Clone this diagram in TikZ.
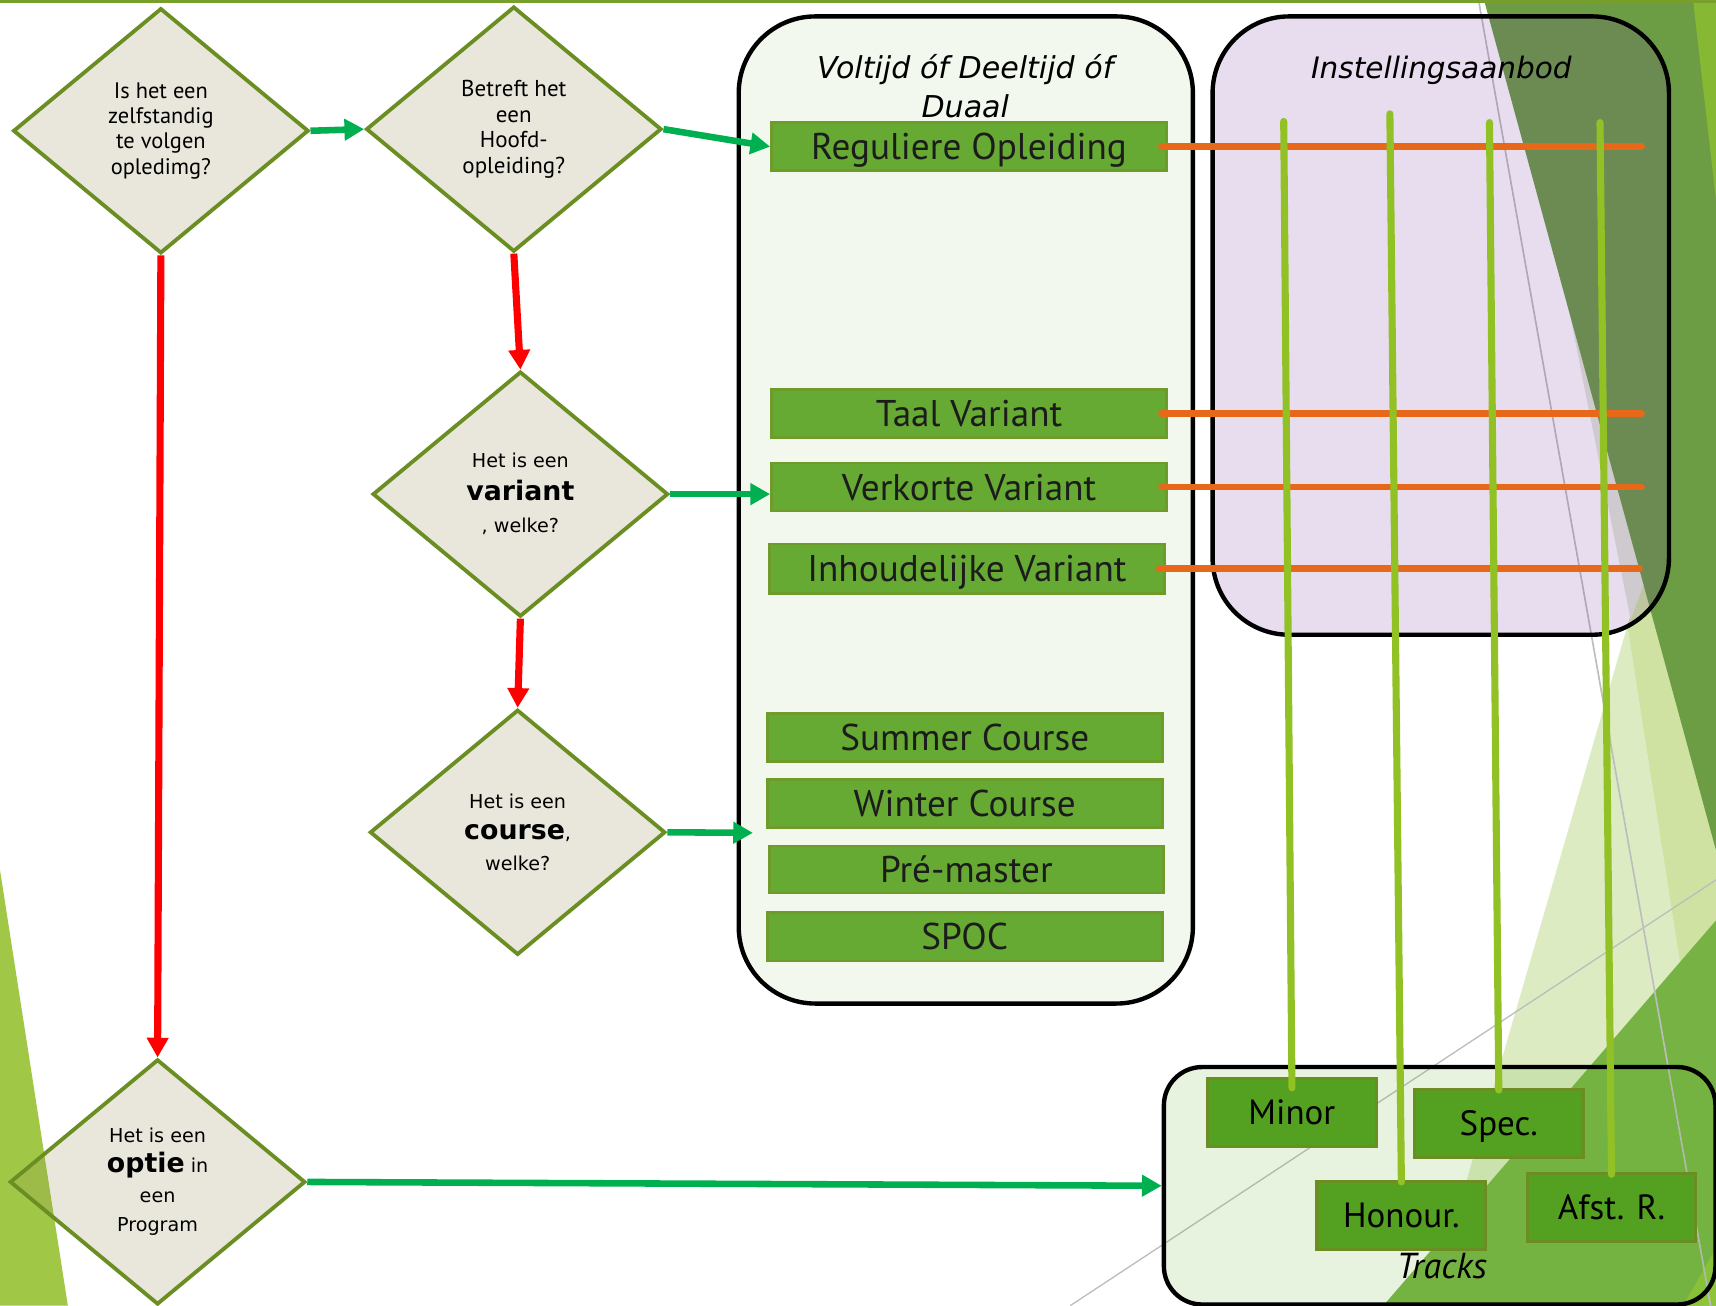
\documentclass[tikz,border=0pt]{standalone}
\usepackage{fontspec}
\setmainfont{PT Sans}
\newfontfamily\dvs{DejaVu Sans}
\usetikzlibrary{shapes.geometric,arrows.meta}
\definecolor{tanfill}{HTML}{948A54}
\definecolor{olivebd}{HTML}{6B8E23}
\definecolor{gfill}{HTML}{66AA33}
\definecolor{gbd}{HTML}{6E9B2A}
\definecolor{tfill}{HTML}{54A021}
\definecolor{tbd}{HTML}{6B8E23}
\definecolor{orangeln}{HTML}{E8681A}
\definecolor{limeln}{HTML}{92C125}
\definecolor{garrowc}{HTML}{00B050}
\definecolor{purplef}{HTML}{7030A0}
\definecolor{greenf}{HTML}{6CB43C}
\definecolor{voltf}{HTML}{F2F8ED}
\definecolor{bgdark}{HTML}{6C9D45}
\definecolor{bglimetop}{HTML}{86B833}
\definecolor{bglight}{HTML}{DDEBC3}
\definecolor{bglight2}{HTML}{CFE2A2}
\definecolor{bgwedge}{HTML}{E2E8D6}
\definecolor{bgmid}{HTML}{76B344}
\definecolor{bgleft}{HTML}{A0C846}
\definecolor{bgcorner}{HTML}{8DC43A}
\definecolor{topline}{HTML}{76A02B}
\definecolor{thinline}{HTML}{BDBDBD}
\definecolor{txtdark}{HTML}{1C1C1C}
\begin{document}
\begin{tikzpicture}[x=1pt,y=-1pt,
  dia/.style={diamond, draw=olivebd, line width=3.5pt, fill=tanfill, fill opacity=0.2, text opacity=1, minimum width=270pt, minimum height=224pt, inner sep=0pt, align=center, text=black},
  gbox/.style={rectangle, draw=gbd, line width=2.5pt, fill=gfill, minimum width=361pt, minimum height=44pt, inner sep=0pt, font=\fontsize{34}{34}\selectfont, text=txtdark, text height=23.8pt, text depth=0pt},
  tbox/.style={rectangle, draw=tbd, line width=3pt, fill=tfill, minimum width=154pt, minimum height=62pt, inner sep=0pt, font=\fontsize{32}{32}\selectfont, text=black, text height=22.4pt, text depth=0pt},
  garrow/.style={draw=garrowc, line width=6pt, -{Triangle[length=18pt,width=19pt]}},
  rarrow/.style={draw=red, line width=6.5pt, -{Triangle[length=18pt,width=19pt]}},
  oline/.style={draw=orangeln, line width=6pt, line cap=round},
  vline/.style={draw=limeln, line width=6.5pt, line cap=round},
  bigbox/.style={rectangle, draw=black, line width=4pt, rounded corners=70pt, inner sep=0pt},
  ttl/.style={font=\dvs\itshape\fontsize{27.5}{35.5}\selectfont, align=center, text=black},
  thin/.style={draw=thinline, line width=1.5pt}
]
% background
\fill[white] (0,0) rectangle (1568,1193);
\useasboundingbox (0,0) rectangle (1568,1193);
\fill[bgleft] (0,795) -- (62,1193) -- (0,1193) -- cycle;
\fill[bglight] (1307,1193) -- (1487,572) -- (1568,1091) -- (1568,1193) -- cycle;
\fill[bglight2] (1487,572) -- (1568,293) -- (1568,1091) -- cycle;
\fill[bgwedge] (1435,290) -- (1502,534) -- (1490,566) -- cycle;
\fill[bgdark] (1356,0) -- (1568,0) -- (1568,777) -- cycle;
\fill[bglimetop] (1547,0) -- (1568,0) -- (1568,183) -- cycle;
\fill[bgmid] (1264,1193) -- (1568,841) -- (1568,1193) -- cycle;
\fill[bgcorner] (1538,1193) -- (1568,1140) -- (1568,1193) -- cycle;
\draw[thin] (1351,0) -- (1563,1193);
\draw[thin, line width=1.2pt] (978,1193) -- (1568,804);
\fill[topline] (0,0) rectangle (1568,2.5);

% containers
\node[bigbox, fill=voltf, minimum width=415pt, minimum height=902pt] (volt) at (882.5,466) {};
\node[bigbox, fill=purplef, fill opacity=0.16, minimum width=417pt, minimum height=565pt] (inst) at (1316.5,297.5) {};
\node[bigbox, fill=greenf, fill opacity=0.16, rounded corners=35pt, minimum width=504pt, minimum height=217pt] (tracks) at (1315.5,1083.5) {};

\node[ttl] (volttitle) at (882,79) {Voltijd óf Deeltijd óf\\Duaal};
\node[font=\dvs\itshape\fontsize{27}{27}\selectfont, anchor=base] (insttitle) at (1317,71.6) {Instellingsaanbod};
\node[font=\itshape\fontsize{33}{33}\selectfont, anchor=base] (trackstitle) at (1317.5,1168) {Tracks};

% decisions
\node[dia, font=\fontsize{20.5}{23.2}\selectfont] (d1) at (147,119.5) {Is het een\\zelfstandig\\te volgen\\opledimg?};
\node[dia, font=\fontsize{21}{23.4}\selectfont] (d2) at (469.5,118) {Betreft het\\een\\Hoofd-\\opleiding?};
\node[dia, font=\dvs\fontsize{17.5}{29.5}\selectfont] (d3) at (475.5,451.5) {Het is een\\{\bfseries\fontsize{24.5}{29.5}\selectfont variant}\\, welke?};
\node[dia, font=\dvs\fontsize{17.5}{28.5}\selectfont] (d4) at (473,760.5) {Het is een\\{\bfseries\fontsize{24.5}{28.5}\selectfont course},\\welke?};
\node[dia, font=\dvs\fontsize{17.5}{27}\selectfont] (d5) at (144,1080) {Het is een\\{\bfseries\fontsize{24.5}{27}\selectfont optie} in\\een\\Program};

% programme boxes
\node[gbox] (reg) at (885.5,134) {Reguliere Opleiding};
\node[gbox] (taal) at (885.5,378) {Taal Variant};
\node[gbox] (verk) at (885.5,445) {Verkorte Variant};
\node[gbox, minimum height=45pt] (inh) at (883.5,519.5) {Inhoudelijke Variant};
\node[gbox] (summer) at (881.5,674) {Summer Course};
\node[gbox] (winter) at (881.5,734) {Winter Course};
\node[gbox, minimum width=360pt, minimum height=43pt] (pre) at (883,794.5) {Pré-master};
\node[gbox] (spoc) at (881.5,856) {SPOC};

% track boxes
\node[tbox] (minor) at (1180.5,1016.5) {Minor};
\node[tbox] (spec) at (1369.5,1026.5) {Spec.};
\node[tbox] (hon) at (1280.5,1110.5) {Honour.};
\node[tbox] (afst) at (1472.5,1103.5) {Afst. R.};

% orange lines
\coordinate (o1) at (1500,134);
\coordinate (o2) at (1500,378);
\coordinate (o3) at (1500,445);
\coordinate (o4) at (1498,519.5);
\draw[oline] ([xshift=-6pt]reg.east) -- (o1);
\draw[oline] ([xshift=-6pt]taal.east) -- (o2);
\draw[oline] ([xshift=-6pt]verk.east) -- (o3);
\draw[oline] ([xshift=-6pt]inh.east) -- (o4);

% vertical lines
\coordinate (v1) at (1173,111);
\coordinate (v2) at (1270,104);
\coordinate (v3) at (1361,112);
\coordinate (v4) at (1462,112);
\draw[vline] (v1) -- ([yshift=-10pt]minor.north);
\draw[vline] (v2) -- ([yshift=-2pt]hon.north);
\draw[vline] (v3) -- ([yshift=-2pt]spec.north);
\draw[vline] (v4) -- ([yshift=-2pt]afst.north);

% arrows
\coordinate (c4) at (688,761);
\draw[garrow] (d1.east) -- (d2.west);
\draw[garrow] (d2.east) -- (reg.west);
\draw[garrow] (d3.east) -- (d3.east -| verk.west);
\draw[garrow] (d4.east) -- (c4);
\draw[garrow] (d5.east) -- (tracks.west);
\draw[rarrow] (d1.south) -- (d5.north);
\draw[rarrow] (d2.south) -- (d3.north);
\draw[rarrow] (d3.south) -- (d4.north);
\end{tikzpicture}
\end{document}
